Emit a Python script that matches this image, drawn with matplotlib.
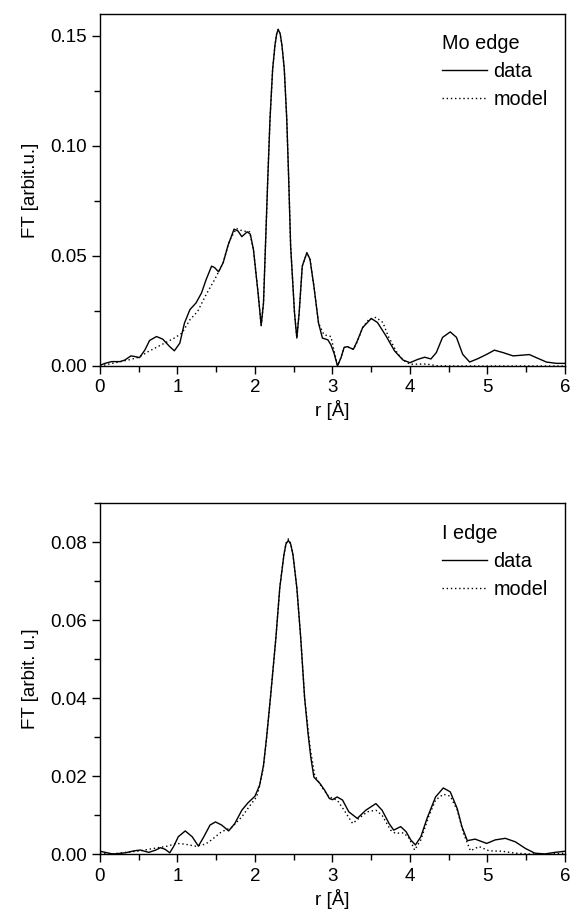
import numpy as np
import matplotlib
matplotlib.use('Agg')
import matplotlib.pyplot as plt
from matplotlib.ticker import MultipleLocator, FormatStrFormatter

plt.rcParams['font.family'] = ['Liberation Sans', 'DejaVu Sans']

# Mo edge: data
r_mo = [0, 0.064, 0.15, 0.26, 0.32, 0.40, 0.45, 0.51, 0.58, 0.64, 0.73, 0.81, 0.90, 0.96, 1.03, 1.09,
        1.16, 1.24, 1.31, 1.37, 1.44, 1.48, 1.53, 1.59, 1.65, 1.73, 1.78, 1.83, 1.90, 1.94, 1.98, 2.04,
        2.08, 2.11, 2.165, 2.194, 2.228, 2.258, 2.28, 2.30, 2.325, 2.348, 2.378, 2.41, 2.435, 2.46,
        2.51, 2.54, 2.57, 2.61, 2.67, 2.71, 2.76, 2.82, 2.87, 2.94, 2.98, 3.02, 3.065, 3.11, 3.15,
        3.19, 3.27, 3.32, 3.39, 3.50, 3.58, 3.69, 3.80, 3.91, 4.0, 4.10, 4.19, 4.27, 4.34, 4.42, 4.52,
        4.60, 4.68, 4.77, 4.88, 4.99, 5.09, 5.20, 5.33, 5.44, 5.54, 5.63, 5.76, 5.89, 6.0]
ft_mo = [0.0003, 0.0012, 0.002, 0.002, 0.0027, 0.0046, 0.0043, 0.0038, 0.0073, 0.0116, 0.0134, 0.0122,
         0.0088, 0.0069, 0.0104, 0.0195, 0.0256, 0.0287, 0.0332, 0.0393, 0.0454, 0.0447, 0.0428, 0.0470,
         0.0546, 0.0622, 0.0614, 0.0588, 0.061, 0.0599, 0.0530, 0.0332, 0.0183, 0.0287, 0.085, 0.1123,
         0.135, 0.1458, 0.151, 0.153, 0.151, 0.1458, 0.135, 0.1123, 0.085, 0.0546, 0.0241, 0.0127,
         0.0241, 0.0454, 0.0515, 0.0485, 0.0363, 0.0195, 0.0127, 0.0119, 0.0096, 0.0058, 0.0, 0.0038,
         0.0084, 0.0088, 0.0076, 0.0114, 0.0175, 0.0216, 0.0198, 0.0137, 0.0069, 0.0027, 0.0015, 0.003,
         0.004, 0.0032, 0.0061, 0.013, 0.0155, 0.013, 0.0053, 0.0018, 0.0034, 0.0053, 0.0072, 0.0061,
         0.0046, 0.0049, 0.0052, 0.0038, 0.0018, 0.0012, 0.0012]

# Mo edge: model
r_mo_fit = [0, 0.2, 0.4, 0.5, 0.62, 0.79, 0.96, 1.06, 1.16, 1.26, 1.37, 1.48, 1.59, 1.67, 1.76, 1.84,
            1.93, 1.98, 2.04, 2.08, 2.11, 2.165, 2.194, 2.228, 2.258, 2.28, 2.30, 2.325, 2.348, 2.378,
            2.41, 2.435, 2.46, 2.51, 2.54, 2.57, 2.61, 2.67, 2.71, 2.76, 2.82, 2.89, 2.98, 3.02, 3.065,
            3.11, 3.15, 3.19, 3.27, 3.32, 3.39, 3.47, 3.56, 3.65, 3.72, 3.84, 3.92, 4.0, 4.21, 4.35,
            4.6, 5.0, 5.5, 6.0]
ft_mo_fit = [0.0, 0.0015, 0.003, 0.004, 0.0065, 0.0096, 0.0127, 0.015, 0.021, 0.0248, 0.0325, 0.0393,
             0.047, 0.0569, 0.0625, 0.0614, 0.061, 0.053, 0.0332, 0.0183, 0.0287, 0.085, 0.1123, 0.135,
             0.1458, 0.151, 0.153, 0.151, 0.1458, 0.135, 0.1123, 0.085, 0.0546, 0.0241, 0.0127, 0.0241,
             0.0454, 0.0515, 0.0485, 0.0363, 0.0195, 0.0142, 0.0134, 0.007, 0.0003, 0.0038, 0.0084,
             0.0088, 0.0076, 0.011, 0.0175, 0.0212, 0.0221, 0.0198, 0.0135, 0.0056, 0.0025, 0.0008,
             0.0009, 0.0001, 0.0, 0.0, 0.0, 0.0]

# I edge: data
r_i = [0, 0.07, 0.16, 0.24, 0.33, 0.44, 0.52, 0.63, 0.72, 0.78, 0.84, 0.90, 0.95, 1.01, 1.10, 1.19,
       1.27, 1.34, 1.42, 1.49, 1.57, 1.66, 1.74, 1.83, 1.91, 2.0, 2.06, 2.11, 2.15, 2.20, 2.27, 2.32,
       2.374, 2.40, 2.43, 2.46, 2.49, 2.54, 2.59, 2.64, 2.685, 2.72, 2.76, 2.84, 2.90, 2.96, 3.0, 3.06,
       3.13, 3.21, 3.32, 3.43, 3.56, 3.64, 3.73, 3.79, 3.88, 3.95, 4.01, 4.07, 4.14, 4.22, 4.33, 4.43,
       4.52, 4.61, 4.67, 4.74, 4.84, 4.99, 5.10, 5.23, 5.36, 5.49, 5.61, 5.74, 5.87, 6.0]
ft_i = [0.0008, 0.0005, 0.0001, 0.0002, 0.0004, 0.0009, 0.0011, 0.0005, 0.0011, 0.0017, 0.0013, 0.0004,
        0.002, 0.0045, 0.006, 0.0045, 0.0021, 0.0045, 0.0075, 0.0083, 0.0075, 0.006, 0.0079, 0.0113,
        0.0132, 0.0149, 0.0177, 0.0228, 0.030, 0.0402, 0.0555, 0.0683, 0.0768, 0.0795, 0.0804, 0.0795,
        0.0768, 0.0683, 0.0555, 0.0402, 0.0309, 0.0249, 0.0198, 0.0181, 0.0164, 0.0143, 0.014, 0.0147,
        0.0139, 0.0109, 0.0092, 0.0113, 0.013, 0.0113, 0.0079, 0.0062, 0.0071, 0.0058, 0.0037, 0.0024,
        0.0045, 0.0092, 0.0147, 0.017, 0.016, 0.0117, 0.0071, 0.0035, 0.0039, 0.0028, 0.0037, 0.0041,
        0.0032, 0.0015, 0.0003, 0.0001, 0.0005, 0.0008]

# I edge: model
r_i_fit = [0, 0.16, 0.33, 0.52, 0.69, 0.87, 0.99, 1.10, 1.23, 1.36, 1.44, 1.57, 1.70, 1.83, 1.94, 2.02,
           2.06, 2.11, 2.15, 2.20, 2.27, 2.32, 2.374, 2.40, 2.43, 2.46, 2.49, 2.54, 2.59, 2.64, 2.71,
           2.77, 2.86, 2.94, 3.0, 3.06, 3.15, 3.26, 3.34, 3.45, 3.56, 3.64, 3.75, 3.81, 3.92, 3.99, 4.06,
           4.14, 4.24, 4.33, 4.43, 4.52, 4.61, 4.69, 4.78, 4.89, 5.02, 5.19, 5.36, 5.53, 5.74, 6.0]
ft_i_fit = [0.0003, 0.0001, 0.0005, 0.0009, 0.0015, 0.0021, 0.0028, 0.0026, 0.0021, 0.0026, 0.0037,
            0.0058, 0.0069, 0.0096, 0.0126, 0.0147, 0.0175, 0.0225, 0.0298, 0.0402, 0.0555, 0.0683,
            0.0768, 0.0797, 0.0808, 0.0797, 0.0768, 0.0683, 0.0555, 0.0402, 0.0275, 0.0203, 0.0173,
            0.0151, 0.0143, 0.0139, 0.0113, 0.0079, 0.0092, 0.0109, 0.0113, 0.01, 0.0062, 0.0054,
            0.0055, 0.0041, 0.0011, 0.0037, 0.0096, 0.0139, 0.0154, 0.0149, 0.0113, 0.0054, 0.0009,
            0.002, 0.0009, 0.0008, 0.0003, 0.0001, 0.0, 0.0003]

fs = 13.5
fig = plt.figure(figsize=(5.7, 9.15), dpi=100)
ax1 = fig.add_axes([0.1754, 0.600, 0.8158, 0.3847])
ax2 = fig.add_axes([0.1754, 0.0663, 0.8158, 0.384])

panels = [
    (ax1, r_mo, ft_mo, r_mo_fit, ft_mo_fit, 'Mo edge', 'FT [arbit.u.]', 0.16, 0.05, 0.025, 0.944),
    (ax2, r_i, ft_i, r_i_fit, ft_i_fit, 'I edge', 'FT [arbit. u.]', 0.09, 0.02, 0.01, 0.941),
]

for ax, r, ft, rf, ftf, title, ylab, ymax, ymaj, ymin, legy in panels:
    ax.plot(r, ft, '-', color='black', lw=1.0, label='data')
    ax.plot(rf, ftf, color='black', lw=1.0, ls=(0, (1, 2)), label='model')
    ax.set_xlim(0, 6)
    ax.set_ylim(0, ymax)
    ax.xaxis.set_major_locator(MultipleLocator(1))
    ax.xaxis.set_minor_locator(MultipleLocator(0.5))
    ax.yaxis.set_major_locator(MultipleLocator(ymaj))
    ax.yaxis.set_minor_locator(MultipleLocator(ymin))
    ax.yaxis.set_major_formatter(FormatStrFormatter('%.2f'))
    ax.tick_params(which='both', direction='out', top=False, right=False, labelsize=fs, width=1)
    ax.tick_params(which='major', length=6)
    ax.tick_params(which='minor', length=4)
    for s in ax.spines.values():
        s.set_linewidth(1)
    ax.set_xlabel('r [Å]', fontsize=fs, labelpad=3)
    ax.set_ylabel(ylab, fontsize=fs, labelpad=8)
    ax.legend(title=title, loc='upper left', bbox_to_anchor=(0.735, legy), frameon=False,
              fontsize=14.3, title_fontsize=14.3, alignment='left', borderpad=0,
              handlelength=2.3, handletextpad=0.3, labelspacing=0.45, borderaxespad=0)

fig.savefig('out.png', dpi=100)
